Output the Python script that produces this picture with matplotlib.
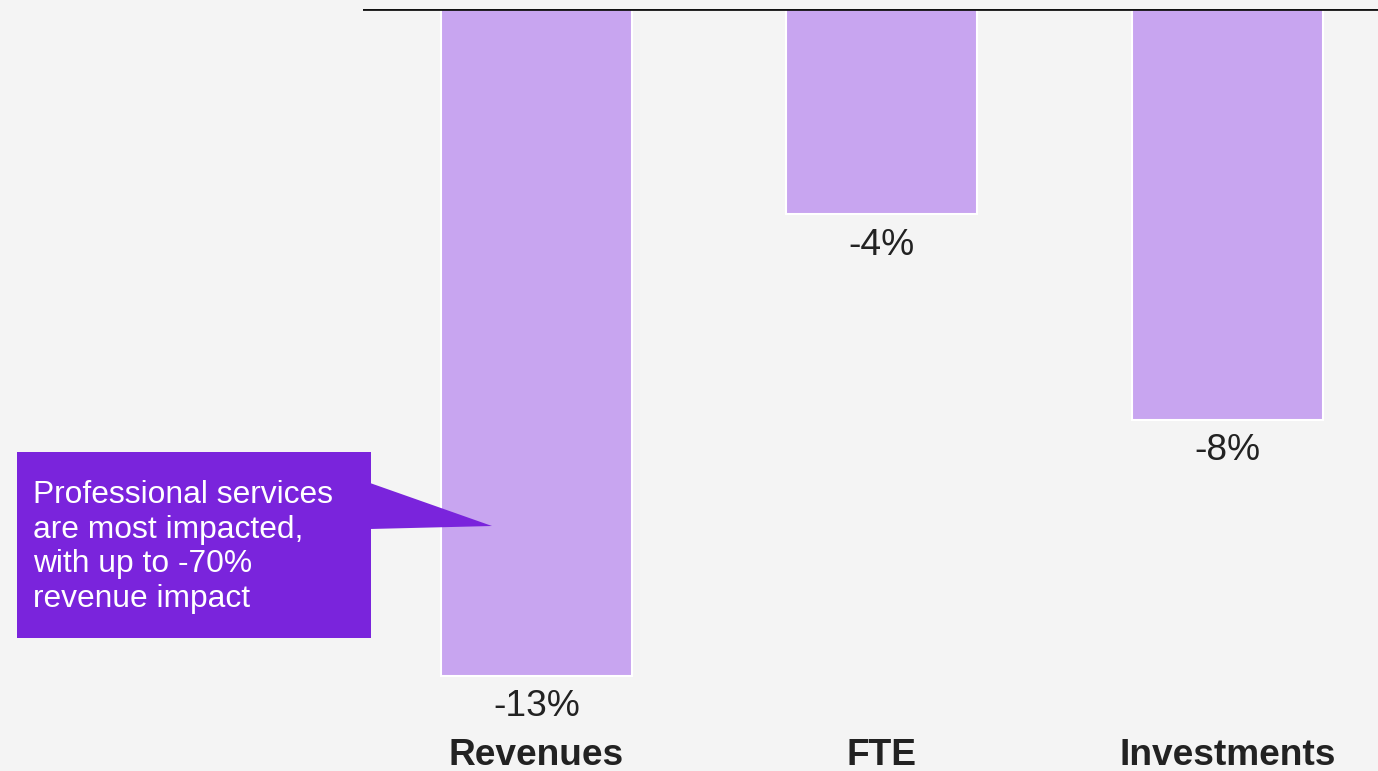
import matplotlib.pyplot as plt
from matplotlib.patches import Polygon, Rectangle

plt.rcParams['font.family'] = ['Liberation Sans', 'DejaVu Sans']

categories = ['Revenues', 'FTE', 'Investments']
values = [-13, -4, -8]
value_labels = ['-13%', '-4%', '-8%']
note = 'Professional services\nare most impacted,\nwith up to -70%\nrevenue impact'

W, H = 1378, 771
bg = '#f4f4f4'
fig = plt.figure(figsize=(W / 100, H / 100), dpi=100, facecolor=bg)

# axes: zero line at y=9 px, left edge at x=363 px
ax = fig.add_axes([363 / W, 0, 1 - 363 / W, 1 - 9 / H])
ax.set_facecolor(bg)
x = list(range(len(categories)))
ax.bar(x, values, width=0.553, color='#c8a5f0', edgecolor='white', linewidth=1.5, zorder=2)
ax.axhline(0, color='#111111', linewidth=2, zorder=3)
ax.set_xlim(-0.502, 2.436)
ax.set_ylim(-14.85, 0)
ax.axis('off')

for xi, v, lab in zip(x, values, value_labels):
    ax.text(xi, v - 0.6, lab, ha='center', va='center', fontsize=26.7, color='#222222')
for xi, c in zip(x, categories):
    ax.text(xi, -14.55, c, ha='center', va='center', fontsize=26.7,
            fontweight='bold', color='#222222')

# callout box with pointer (pixel coords converted to figure fractions)
def px(xp, yp):
    return (xp / W, 1 - yp / H)

callout = '#7a24dc'
x0, y0 = px(17, 638)
x1, y1 = px(371, 452)
fig.patches.append(Rectangle((x0, y0), x1 - x0, y1 - y0, transform=fig.transFigure,
                             facecolor=callout, edgecolor='none', zorder=5))
fig.patches.append(Polygon([px(370, 483), px(492, 526), px(370, 529)], closed=True,
                           transform=fig.transFigure, facecolor=callout,
                           edgecolor='none', zorder=5))
tx, ty = px(33, 547)
fig.text(tx, ty, note, ha='left', va='center', fontsize=22.9, color='white',
         linespacing=1.2, zorder=6)

fig.savefig('out.png', dpi=100, facecolor=bg)
